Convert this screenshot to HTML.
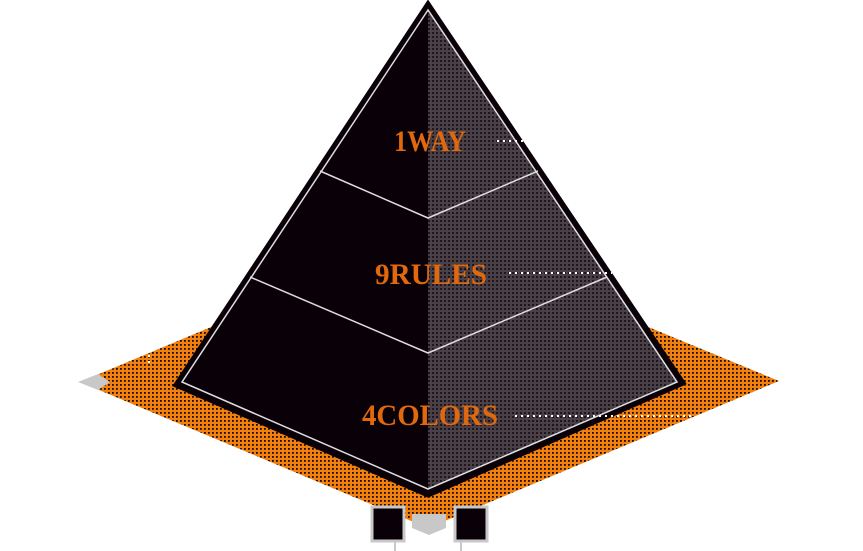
<!DOCTYPE html>
<html><head><style>html,body{margin:0;padding:0;background:#fff;}svg{display:block}</style></head>
<body>
<svg width="863" height="551" viewBox="0 0 863 551" xmlns="http://www.w3.org/2000/svg">
<defs>
<pattern id="po" width="4" height="4" patternUnits="userSpaceOnUse">
<rect width="4" height="4" fill="#f2800f"/><rect x="0" y="0" width="1.8" height="1.8" fill="#1a0a05"/>
</pattern>
<pattern id="pg" width="4" height="4" patternUnits="userSpaceOnUse">
<rect width="4" height="4" fill="#4a4148"/><rect x="0" y="0" width="2" height="2" fill="#1e161c"/>
</pattern>
</defs>
<polygon points="80,382 428,236 779,381 428,528" fill="url(#po)"/>
<polygon points="78,382 98,374 110,382 98,390" fill="#c8c8c8"/>
<polygon points="412,514 446,514 446,528 429,535 412,528" fill="#c8c8c8"/>
<rect x="372" y="507" width="32" height="34" fill="#0a0008" stroke="#c8c8c8" stroke-width="3"/>
<rect x="455" y="507" width="32" height="34" fill="#0a0008" stroke="#c8c8c8" stroke-width="3"/>
<line x1="395" y1="541" x2="395" y2="551" stroke="#c8c8c8" stroke-width="2"/>
<line x1="461" y1="541" x2="461" y2="551" stroke="#c8c8c8" stroke-width="2"/>
<polygon points="428,4 176,385 428,495 683,383" fill="#0a0008" stroke="#0a0008" stroke-width="5" stroke-linejoin="miter"/>
<polygon points="428,10 428,489 678,382" fill="url(#pg)"/>
<polygon points="428,10 182,382 428,489 677,382" fill="none" stroke="#ddd" stroke-width="1.5"/>
<polyline points="320,171 428,218 538,171" fill="none" stroke="#ddd" stroke-width="1.5"/>
<polyline points="250,277 428,353 607,277" fill="none" stroke="#ddd" stroke-width="1.5"/>
<g fill="none" stroke="#fff" stroke-width="2" stroke-dasharray="2,4">
<line x1="497" y1="141" x2="524" y2="141"/>
<line x1="509" y1="273" x2="612" y2="273"/>
<line x1="515" y1="416" x2="694" y2="416"/>
<line x1="149" y1="355" x2="149" y2="364"/>
</g>
<g font-family="Liberation Serif, serif" font-weight="bold" fill="#e0680e" text-anchor="middle">
<text x="430" y="151" font-size="30" textLength="72" lengthAdjust="spacingAndGlyphs">1WAY</text>
<text x="431" y="284" font-size="30" textLength="112" lengthAdjust="spacingAndGlyphs">9RULES</text>
<text x="430" y="425" font-size="30" textLength="136" lengthAdjust="spacingAndGlyphs">4COLORS</text>
</g>
</svg>
</body></html>
